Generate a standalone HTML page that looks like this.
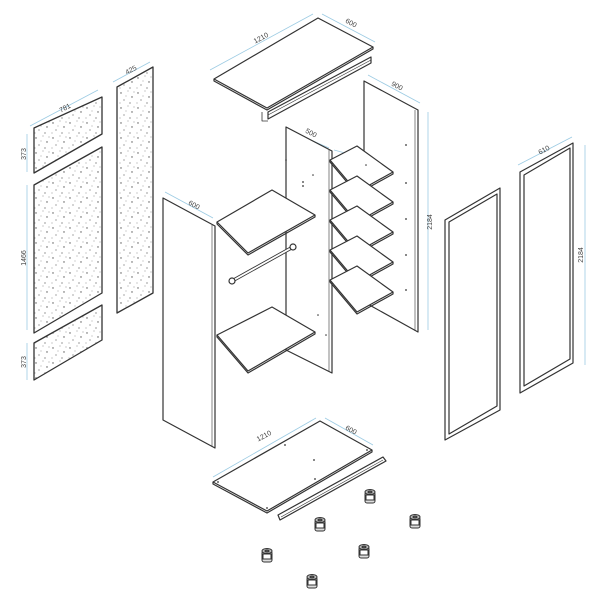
<!DOCTYPE html>
<html><head><meta charset="utf-8"><style>
html,body{margin:0;padding:0;background:#fff;width:600px;height:600px;overflow:hidden}
svg{display:block}
text{font-family:"Liberation Sans",sans-serif;font-size:7px;fill:#444}
</style></head><body>
<svg width="600" height="600" viewBox="0 0 600 600" xmlns="http://www.w3.org/2000/svg">
<defs>
<pattern id="sp" width="17" height="15" patternUnits="userSpaceOnUse">
<circle cx="2" cy="3" r="0.7" fill="#555"/><circle cx="9" cy="1" r="0.5" fill="#777"/>
<circle cx="13" cy="7" r="0.7" fill="#555"/><circle cx="5" cy="10" r="0.6" fill="#666"/>
<circle cx="11" cy="13" r="0.6" fill="#555"/><circle cx="15" cy="2" r="0.5" fill="#777"/>
<circle cx="1" cy="13" r="0.5" fill="#777"/><circle cx="7" cy="6" r="0.5" fill="#888"/>
</pattern>
<g id="ft" stroke="#333" stroke-width="1" fill="#fff">
<rect x="-5" y="0" width="10" height="11" rx="2" fill="#ddd"/>
<rect x="-4" y="3" width="8" height="5" fill="#fff"/>
<ellipse cx="0" cy="0" rx="5" ry="2.5" fill="#bbb"/>
<ellipse cx="0" cy="0" rx="2" ry="1" fill="#666"/>
</g>
<g id="sh" stroke="#333" stroke-width="1.2" fill="#fff" stroke-linejoin="round">
<polygon points="330,160 357,146 393,172 357,192"/>
<polyline points="330,160 330,162 357,194 393,174 393,172" fill="none"/>
</g>
</defs>
<g stroke="#9ccbe3" stroke-width="0.8" fill="none">
<line x1="30" y1="126" x2="98" y2="90"/>
<line x1="27" y1="134" x2="27" y2="172"/>
<line x1="27" y1="185" x2="27" y2="330"/>
<line x1="27" y1="343" x2="27" y2="380"/>
<line x1="113" y1="82" x2="150" y2="62"/>
<line x1="210" y1="70" x2="313" y2="14"/>
<line x1="322" y1="14" x2="375" y2="42"/>
<line x1="368" y1="75" x2="420" y2="103"/>
<line x1="428" y1="112" x2="428" y2="330"/>
<line x1="165" y1="192" x2="213" y2="218"/>
<line x1="288" y1="130" x2="329" y2="148"/>
<line x1="334" y1="150" x2="393" y2="166"/>
<line x1="518" y1="165" x2="572" y2="137"/>
<line x1="585" y1="145" x2="585" y2="365"/>
<line x1="213" y1="477" x2="316" y2="418"/>
<line x1="325" y1="418" x2="373" y2="445"/>
<line x1="248" y1="366" x2="310" y2="332"/>
</g>
<g>
<text transform="translate(66,110) rotate(-28)" text-anchor="middle">781</text>
<text transform="translate(26,154) rotate(-90)" text-anchor="middle">373</text>
<text transform="translate(26,258) rotate(-90)" text-anchor="middle">1466</text>
<text transform="translate(26,362) rotate(-90)" text-anchor="middle">373</text>
<text transform="translate(132,72) rotate(-28)" text-anchor="middle">425</text>
<text transform="translate(262,40) rotate(-28)" text-anchor="middle">1210</text>
<text transform="translate(350,25) rotate(28)" text-anchor="middle">600</text>
<text transform="translate(396,88) rotate(28)" text-anchor="middle">900</text>
<text transform="translate(432,222) rotate(-90)" text-anchor="middle">2184</text>
<text transform="translate(193,207) rotate(28)" text-anchor="middle">600</text>
<text transform="translate(310,135) rotate(28)" text-anchor="middle">500</text>
<text transform="translate(372,154) rotate(28)" text-anchor="middle">500</text>
<text transform="translate(372,176) rotate(-28)" text-anchor="middle">400</text>
<text transform="translate(296,315) rotate(28)" text-anchor="middle">500</text>
<text transform="translate(278,345) rotate(-28)" text-anchor="middle">756</text>
<text transform="translate(545,152) rotate(-28)" text-anchor="middle">610</text>
<text transform="translate(583,255) rotate(-90)" text-anchor="middle">2184</text>
<text transform="translate(265,438) rotate(-28)" text-anchor="middle">1210</text>
<text transform="translate(350,432) rotate(28)" text-anchor="middle">600</text>
</g>
<g stroke="#333" stroke-width="1.3" fill="url(#sp)" stroke-linejoin="round">
<polygon points="34,128 102,97 102,134 34,173"/>
<polygon points="34,185 102,147 102,293 34,333"/>
<polygon points="34,343 102,305 102,340 34,380"/>
<polygon points="117,87 153,67 153,293 117,313"/>
</g>
<g stroke="#333" stroke-width="1.2" fill="#fff" stroke-linejoin="round">
<polygon points="214,79 318,18 373,47 267,108"/>
<polyline points="214,79 214,81 267,110 373,49 373,47" fill="none"/>
<polygon points="268,112 371,57 371,63 268,119" />
<line x1="268" y1="115" x2="371" y2="60" stroke-width="0.6"/>
<polyline points="262,112 262,121 268,121" fill="none" stroke-width="0.8"/>
<polygon points="364,81 418,110 418,332 364,302"/>
<line x1="415" y1="110" x2="415" y2="331" stroke-width="0.6"/>
<polygon points="286,127 332,151 332,373 286,350"/>
<line x1="329" y1="150" x2="329" y2="372" stroke-width="0.6"/>
</g>
<use href="#sh"/><use href="#sh" y="30"/><use href="#sh" y="60"/><use href="#sh" y="90"/><use href="#sh" y="120"/>
<g stroke="#333" stroke-width="1.2" fill="#fff" stroke-linejoin="round">
<polygon points="163,198 215,226 215,448 163,420"/>
<line x1="212" y1="225" x2="212" y2="447" stroke-width="0.6"/>
<polygon points="217,222 272,190 315,215 248,253"/>
<polyline points="217,222 217,224 248,255 315,217 315,215" fill="none"/>
<line x1="232" y1="281" x2="293" y2="247" stroke-width="3.5" stroke="#333"/>
<line x1="232" y1="281" x2="293" y2="247" stroke-width="1.8" stroke="#fff"/>
<circle cx="232" cy="281" r="3"/><circle cx="293" cy="247" r="3"/>
<polygon points="217,335 272,307 315,332 248,371"/>
<polyline points="217,335 217,337 248,373 315,334 315,332" fill="none"/>
<polygon points="445,220 500,188 500,410 445,440"/>
<polygon points="449,222 497,194 497,406 449,434"/>
<polygon points="520,172 573,143 573,363 520,393"/>
<polygon points="524,175 570,148 570,359 524,386"/>
<polygon points="213,482 320,421 372,450 267,511"/>
<polyline points="213,482 213,484 267,513 372,452 372,450" fill="none"/>
<polygon points="278,515 383,457 386,461 280,520"/>
<line x1="281" y1="517" x2="383" y2="460" stroke-width="0.6"/>
</g>
<g fill="#333">
<circle cx="303" cy="182" r="0.9"/><circle cx="303" cy="186" r="0.9"/><circle cx="313" cy="175" r="0.8"/>
<circle cx="406" cy="145" r="0.9"/><circle cx="406" cy="183" r="0.9"/><circle cx="406" cy="219" r="0.9"/>
<circle cx="406" cy="255" r="0.9"/><circle cx="406" cy="290" r="0.9"/><circle cx="366" cy="165" r="0.8"/>
<circle cx="286" cy="160" r="0.8"/><circle cx="326" cy="335" r="0.8"/><circle cx="318" cy="315" r="0.8"/>
<circle cx="285" cy="445" r="0.9"/><circle cx="314" cy="460" r="0.9"/><circle cx="315" cy="479" r="0.9"/>
<circle cx="267" cy="508" r="0.9"/><circle cx="218" cy="482" r="0.9"/><circle cx="367" cy="450" r="0.9"/>
</g>
<use href="#ft" x="370" y="492"/>
<use href="#ft" x="320" y="520"/>
<use href="#ft" x="415" y="517"/>
<use href="#ft" x="267" y="551"/>
<use href="#ft" x="364" y="547"/>
<use href="#ft" x="312" y="577"/>
</svg>
</body></html>
